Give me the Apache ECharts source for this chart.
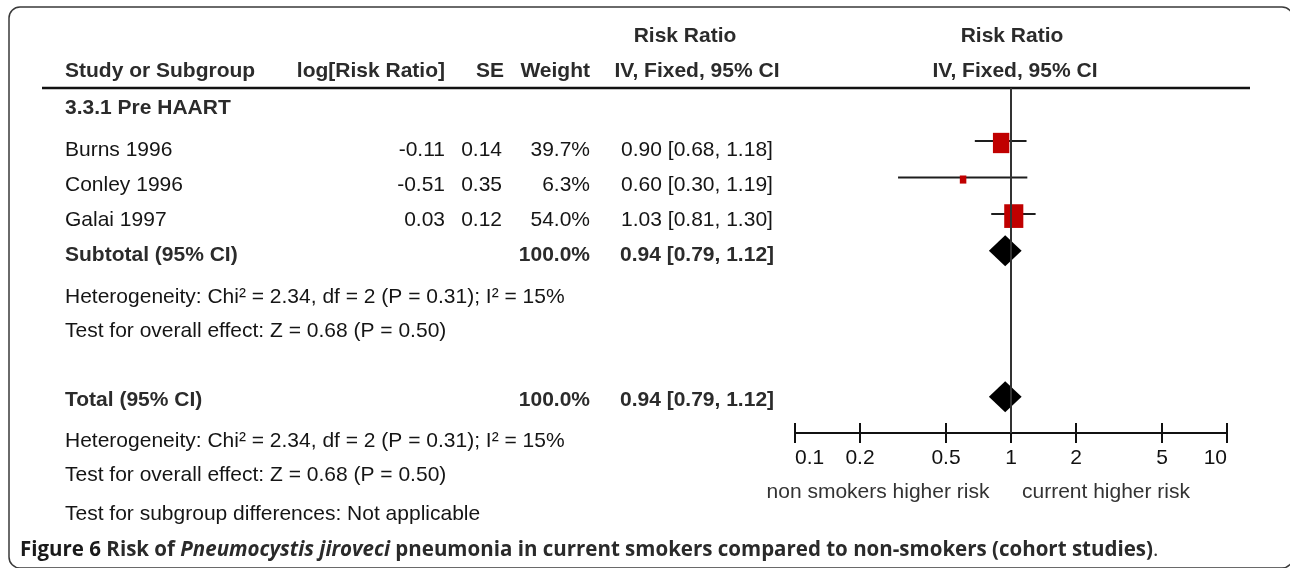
<!DOCTYPE html>
<html>
<head>
<meta charset="utf-8">
<script src="https://cdn.jsdelivr.net/npm/echarts@6/dist/echarts.min.js"></script>
<style>
html,body{margin:0;padding:0;background:#fff;}
#c{width:1290px;height:568px;}
</style>
</head>
<body>
<div id="c"></div>
<script>
// ---------------- data ----------------
const studies = ['Burns 1996', 'Conley 1996', 'Galai 1997'];
const logRR = ['-0.11', '-0.51', '0.03'];
const seVals = ['0.14', '0.35', '0.12'];
const weights = [39.7, 6.3, 54.0];
const rr = [0.90, 0.60, 1.03];
const ciLow = [0.68, 0.30, 0.81];
const ciHigh = [1.18, 1.19, 1.30];
const studyRows = [0, 1, 2];

const pooledNames = ['Subtotal (95% CI)', 'Total (95% CI)'];
const pooledWeight = [100.0, 100.0];
const pooledRR = [0.94, 0.94];
const pooledLow = [0.79, 0.79];
const pooledHigh = [1.12, 1.12];
const pooledRows = [3, 7];

const xTicks = [0.1, 0.2, 0.5, 1, 2, 5, 10];
const subgroupTitle = '3.3.1 Pre HAART';
const heterogeneity = 'Heterogeneity: Chi\u00B2 = 2.34, df = 2 (P = 0.31); I\u00B2 = 15%';
const overallEffect = 'Test for overall effect: Z = 0.68 (P = 0.50)';
const subgroupTest = 'Test for subgroup differences: Not applicable';
const leftAxisName = 'non smokers higher risk';
const rightAxisName = 'current higher risk';

// ---------------- fonts ----------------
function hasFont(name) {
  const ctx = document.createElement('canvas').getContext('2d');
  const s = 'Burns 1996 mmmWiil';
  ctx.font = '40px monospace';
  const a = ctx.measureText(s).width;
  ctx.font = '40px "' + name + '", monospace';
  return ctx.measureText(s).width !== a;
}
const narrow = hasFont('Liberation Sans Narrow');
const FF = narrow ? '"Liberation Sans Narrow", "Liberation Sans", Arial, sans-serif' : '"Liberation Sans", Arial, sans-serif';
const FS = narrow ? 24 : 21;
const TXT = '#151515';
const BTXT = '#2b2b2b';

const fmtCI = (a, b, c) => a.toFixed(2) + ' [' + b.toFixed(2) + ', ' + c.toFixed(2) + ']';

function txt(text, x, y, align, bold, color, size, family) {
  return {
    type: 'text', x: x, y: y, silent: true,
    style: {
      text: text, fill: color || (bold ? BTXT : TXT),
      fontSize: size || FS, fontFamily: family || FF, fontWeight: bold ? 'bold' : 'normal',
      align: align || 'left', verticalAlign: 'middle',
      textAlign: align || 'left', textVerticalAlign: 'middle'
    }
  };
}

// ---------------- layout (pixels) ----------------
const COL = { name: 65, log: 445, se: 502, weight: 590, ci: 697 };
const studyTextY = [150, 185, 220.5];
const pooledTextY = [255, 400];

const g = [];
// frame
g.push({ type: 'rect', silent: true, shape: { x: 9, y: 7, width: 1284, height: 561, r: 11 },
  style: { fill: 'none', stroke: '#3a3a3a', lineWidth: 1.5 } });
// headers
g.push(txt('Risk Ratio', 685, 36, 'center', true));
g.push(txt('Risk Ratio', 1012, 36, 'center', true));
g.push(txt('Study or Subgroup', COL.name, 71, 'left', true));
g.push(txt('log[Risk Ratio]', COL.log, 71, 'right', true));
g.push(txt('SE', COL.se + 2, 71, 'right', true));
g.push(txt('Weight', COL.weight, 71, 'right', true));
g.push(txt('IV, Fixed, 95% CI', COL.ci, 71, 'center', true));
g.push(txt('IV, Fixed, 95% CI', 1015, 71, 'center', true));
g.push({ type: 'line', silent: true, shape: { x1: 42, y1: 88, x2: 1250, y2: 88 },
  style: { stroke: '#111', lineWidth: 2.5 } });
g.push(txt(subgroupTitle, COL.name, 108, 'left', true));
// study rows
studies.forEach((s, i) => {
  const y = studyTextY[i];
  g.push(txt(s, COL.name, y, 'left', false));
  g.push(txt(logRR[i], COL.log, y, 'right', false));
  g.push(txt(seVals[i], COL.se, y, 'right', false));
  g.push(txt(weights[i].toFixed(1) + '%', COL.weight, y, 'right', false));
  g.push(txt(fmtCI(rr[i], ciLow[i], ciHigh[i]), COL.ci, y, 'center', false));
});
// pooled rows
pooledNames.forEach((s, i) => {
  const y = pooledTextY[i];
  g.push(txt(s, COL.name, y, 'left', true));
  g.push(txt(pooledWeight[i].toFixed(1) + '%', COL.weight, y, 'right', true));
  g.push(txt(fmtCI(pooledRR[i], pooledLow[i], pooledHigh[i]), COL.ci, y, 'center', true));
});
g.push(txt(heterogeneity, COL.name, 297, 'left', false));
g.push(txt(overallEffect, COL.name, 331, 'left', false));
g.push(txt(heterogeneity, COL.name, 441, 'left', false));
g.push(txt(overallEffect, COL.name, 475, 'left', false));
g.push(txt(subgroupTest, COL.name, 514, 'left', false));
g.push(txt(leftAxisName, 878, 492, 'center', false, '#333'));
g.push(txt(rightAxisName, 1106, 492, 'center', false, '#333'));
// caption
const CF = '"Open Sans", sans-serif';
const CS = 20.5;
g.push({
  type: 'text', x: 20, y: 550, silent: true,
  style: {
    text: '{b|Figure 6 }{r|Risk of }{i|Pneumocystis jiroveci}{r| pneumonia in current smokers compared to non-smokers (cohort studies)}{n|.}',
    verticalAlign: 'middle', textVerticalAlign: 'middle', align: 'left', textAlign: 'left',
    fontFamily: CF, fontSize: CS, fill: '#222',
    rich: {
      b: { fontFamily: CF, fontSize: CS, fontWeight: 'bold', fill: '#1a1a1a', color: '#1a1a1a' },
      r: { fontFamily: CF, fontSize: CS, fontWeight: 'bold', fill: '#2a2a2a', color: '#2a2a2a' },
      i: { fontFamily: CF, fontSize: CS, fontWeight: 'bold', fontStyle: 'italic', fill: '#2a2a2a', color: '#2a2a2a' },
      n: { fontFamily: CF, fontSize: CS, fontWeight: 'normal', fill: '#333', color: '#333' }
    }
  }
});

// ---------------- chart ----------------
const studyData = studies.map((s, i) => [rr[i], ciLow[i], ciHigh[i], studyRows[i], weights[i]]);
const pooledData = pooledNames.map((s, i) => [pooledRR[i], pooledLow[i], pooledHigh[i], pooledRows[i]]);

const tickFmt = v => String(parseFloat(Number(v).toPrecision(3)));

const baseAxis = {
  type: 'log', logBase: 10, min: 0.1, max: 10, gridIndex: 0, position: 'bottom',
  splitLine: { show: false }, minorTick: { show: false }
};

const option = {
  animation: false,
  backgroundColor: '#fff',
  grid: { left: 795, width: 432, top: 88, height: 345, containLabel: false },
  xAxis: [
    Object.assign({}, baseAxis, {
      axisLine: { show: true, onZero: false, lineStyle: { color: '#111', width: 2 } },
      axisTick: { show: true, inside: false, length: 10, customValues: xTicks, lineStyle: { color: '#111', width: 2 } },
      axisLabel: { show: true, customValues: xTicks, formatter: tickFmt, margin: 15,
        fontFamily: FF, fontSize: FS, color: '#111', alignMinLabel: 'left', alignMaxLabel: 'right',
        showMinLabel: true, showMaxLabel: true, hideOverlap: false }
    }),
    Object.assign({}, baseAxis, {
      axisLine: { show: false, onZero: false },
      axisTick: { show: true, inside: true, length: 10, customValues: xTicks, lineStyle: { color: '#111', width: 2 } },
      axisLabel: { show: false }
    })
  ],
  yAxis: { type: 'value', inverse: true, min: -1.45, max: 7.99, show: false },
  series: [
    {
      type: 'line', data: [], z: 1, silent: true,
      markLine: {
        silent: true, symbol: 'none', animation: false,
        label: { show: false },
        lineStyle: { color: '#333', width: 2, type: 'solid' },
        data: [{ xAxis: 1 }]
      }
    },
    {
      type: 'custom', z: 3, silent: true,
      data: studyData,
      encode: { x: [0, 1, 2], y: 3 },
      renderItem: function (params, api) {
        const row = api.value(3);
        const p = api.coord([api.value(0), row]);
        const pl = api.coord([api.value(1), row]);
        const ph = api.coord([api.value(2), row]);
        const w = 2.6 * Math.sqrt(api.value(4));
        const h = w * 1.24;
        return {
          type: 'group',
          children: [
            { type: 'line', shape: { x1: pl[0], y1: p[1], x2: ph[0], y2: p[1] }, style: { stroke: '#1e1e1e', lineWidth: 2 } },
            { type: 'rect', shape: { x: p[0] - w / 2, y: p[1] + 2 - h / 2, width: w, height: h }, style: { fill: '#c00000' } }
          ]
        };
      }
    },
    {
      type: 'custom', z: 3, silent: true,
      data: pooledData,
      encode: { x: [0, 1, 2], y: 3 },
      renderItem: function (params, api) {
        const row = api.value(3);
        const p = api.coord([api.value(0), row]);
        const pl = api.coord([api.value(1), row]);
        const ph = api.coord([api.value(2), row]);
        const hh = 15.5;
        return {
          type: 'polygon',
          shape: { points: [[pl[0], p[1]], [p[0], p[1] - hh], [ph[0], p[1]], [p[0], p[1] + hh]] },
          style: { fill: '#000' }
        };
      }
    }
  ],
  graphic: { elements: g }
};

const chart = echarts.init(document.getElementById('c'), null, { renderer: 'canvas' });
chart.setOption(option);
</script>
</body>
</html>
